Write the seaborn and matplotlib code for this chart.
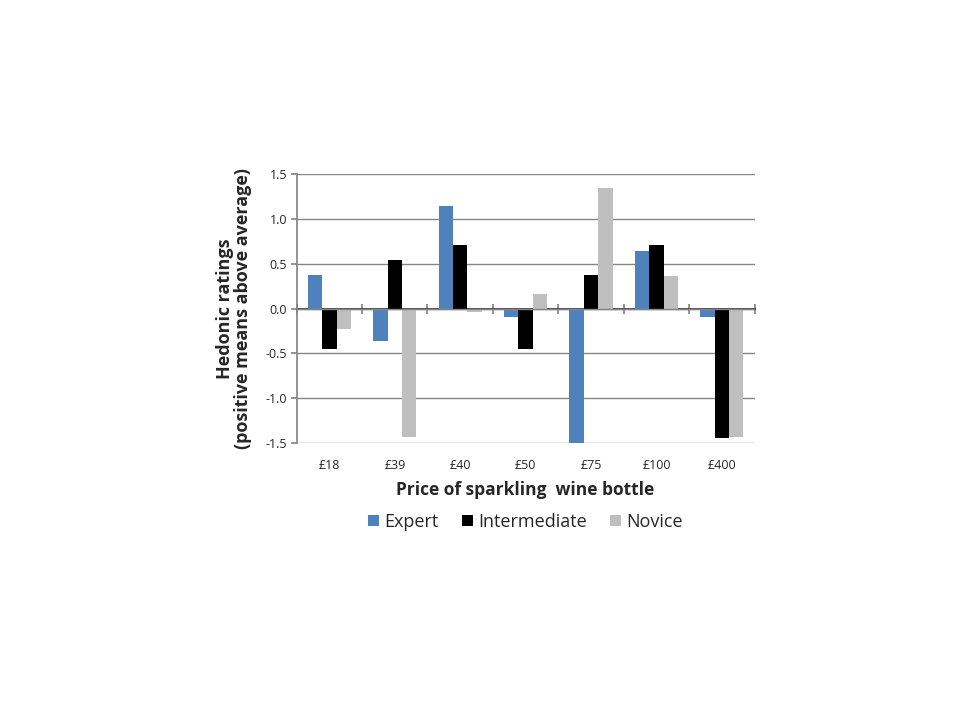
import pandas as pd
import matplotlib.pyplot as plt
import seaborn as sns

# Values
prices = ['£18', '£39', '£40', '£50', '£75', '£100', '£400']
expert = [0.38, -0.36, 1.14, -0.10, -1.50, 0.64, -0.10]
intermediate = [-0.45, 0.54, 0.71, -0.45, 0.37, 0.71, -1.45]
novice = [-0.23, -1.44, -0.04, 0.16, 1.35, 0.36, -1.44]
groups = ['Expert', 'Intermediate', 'Novice']
colors = ['#4F81BD', '#000000', '#BFBFBF']

df = pd.DataFrame({'Price': prices, 'Expert': expert,
                   'Intermediate': intermediate, 'Novice': novice})
df = df.melt(id_vars='Price', var_name='Group', value_name='Rating')

sns.set_theme(style='white')
plt.rcParams['font.family'] = ['Open Sans', 'DejaVu Sans']

fig = plt.figure(figsize=(9.6, 7.2), dpi=100)
ax = fig.add_axes([0.309, 0.385, 0.477, 0.373])

sns.barplot(data=df, x='Price', y='Rating', hue='Group', order=prices,
            hue_order=groups, palette=colors, width=0.66, saturation=1,
            errorbar=None, linewidth=0, gap=0, ax=ax)

ax.set_ylim(-1.5, 1.5)
ax.set_xlim(-0.5, len(prices) - 0.5)
ax.set_yticks([-1.5, -1.0, -0.5, 0.0, 0.5, 1.0, 1.5])
ax.set_yticklabels([f'{v:.1f}' for v in ax.get_yticks()], fontsize=9)
ax.yaxis.grid(True, color='#868686', linewidth=1)
ax.set_axisbelow(True)
ax.tick_params(axis='y', length=4, color='#868686', direction='out', left=True, pad=3)
ax.tick_params(axis='x', length=0, labelsize=9, pad=12)

for s in ['top', 'right', 'bottom']:
    ax.spines[s].set_visible(False)
ax.spines['left'].set_color('#868686')

# category axis drawn on the zero line with boundary ticks
ax.axhline(0, color='#868686', linewidth=1, zorder=1)
sec = ax.secondary_xaxis(0.5)
sec.set_xticks([i - 0.5 for i in range(len(prices) + 1)])
sec.set_xticklabels([])
sec.tick_params(length=7, direction='inout', color='#868686')
sec.spines['bottom'].set_visible(False)

ax.set_xlabel('Price of sparkling  wine bottle', fontsize=12.5,
              fontweight='bold', labelpad=6)
ax.set_ylabel('Hedonic ratings\n(positive means above average)', fontsize=13,
              fontweight='bold', labelpad=10, linespacing=1.0)

ax.legend(loc='upper center', bbox_to_anchor=(0.5, -0.2), ncol=3,
          frameon=False, fontsize=13, handlelength=0.6, handleheight=0.6,
          handletextpad=0.3, columnspacing=1.3)

fig.savefig('out.png', dpi=100)
